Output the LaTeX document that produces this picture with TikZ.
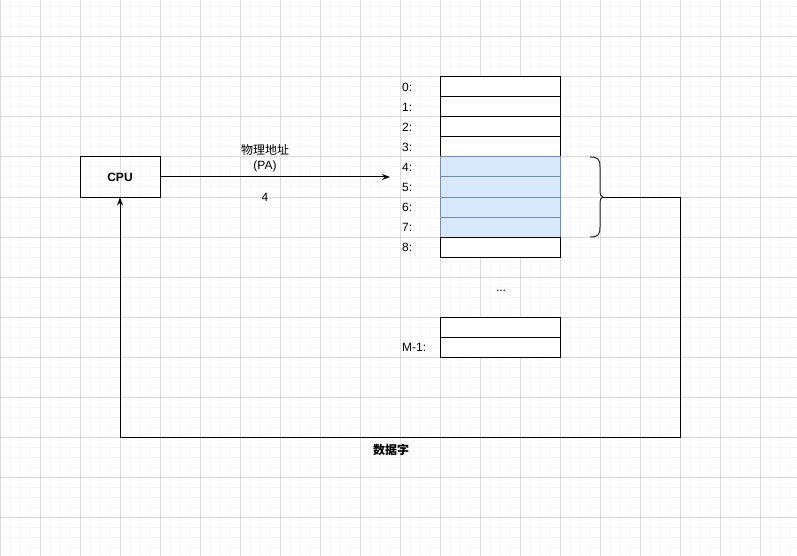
\documentclass[tikz,border=0pt]{standalone}
\usepackage{fontspec}
\setmainfont{Liberation Sans}
\newfontfamily\cjk{Noto Sans CJK SC}
\usetikzlibrary{arrows.meta}
\definecolor{memblue}{RGB}{218,232,252}
\definecolor{memedge}{RGB}{108,142,191}
\definecolor{gridmajor}{RGB}{218,218,218}
\definecolor{gridminor}{RGB}{246,246,246}

\begin{document}
\begin{tikzpicture}[
    x=1pt, y=-1pt,
    cell/.style={draw, line width=1pt, minimum width=120pt, minimum height=20pt, inner sep=0pt, fill=#1},
    cell/.default=white,
    cpubox/.style={draw, line width=1pt, minimum width=80pt, minimum height=40pt, font=\bfseries\fontsize{12}{14}\selectfont},
    addr/.style={anchor=west, inner sep=0pt, font=\fontsize{12}{14}\selectfont},
    txt/.style={inner sep=0pt, align=center, font=\fontsize{12}{15}\selectfont},
    arrow/.style={-{Stealth[length=8pt,width=6pt]}, line width=1pt}
]
% Background grid
\useasboundingbox (0,0) rectangle (797,556);
\fill[white] (0,0) rectangle (797,556);
\foreach \x in {10,20,...,790} \draw[gridminor, line width=1pt] (\x,0) -- (\x,556);
\foreach \y in {7,17,...,547} \draw[gridminor, line width=1pt] (0,\y) -- (797,\y);
\foreach \x in {0,40,...,760} \draw[gridmajor, line width=1pt] (\x,0) -- (\x,556);
\foreach \y in {37,77,...,517} \draw[gridmajor, line width=1pt] (0,\y) -- (797,\y);

% CPU
\node[cpubox] (cpu) at (120,177) {CPU};

% Memory cells
\foreach \i in {0,...,3} \node[cell] (m\i) at (500,87+20*\i) {};
\foreach \i in {4,...,7} \node[cell=memblue, draw=memedge] (m\i) at (500,87+20*\i) {};
\node[cell] (m8) at (500,247) {};
\node[cell] (mlast2) at (500,327) {};
\node[cell] (mlast) at (500,347) {};

% Addresses
\foreach \i in {0,...,8} \node[addr] (a\i) at (402,87+20*\i) {\i:};
\node[addr] (alast) at (402,347) {M-1:};
\node[txt] (dots) at (501,291) {...};

% Address bus
\coordinate (addrend) at (390,177);
\node[txt] (palabel) at (265,158.5) {{\cjk 物理地址}\\(PA)};
\node[txt] (paval) at (265,197) {4};
\draw[arrow] (cpu) -- (addrend);

% Data word back to CPU
\coordinate (bracetip) at (603,197);
\draw[line width=1pt, black!85] (590,157) .. controls (598,157) and (600,159) .. (600,167)
    -- (600,189) .. controls (600,195) and (601,197) .. (bracetip)
    .. controls (601,197) and (600,199) .. (600,205)
    -- (600,227) .. controls (600,235) and (598,237) .. (590,237);
\coordinate (corner) at (680,437);
\draw[arrow] (bracetip) -| (corner) -| (cpu.south);
\node[txt, font=\cjk\bfseries\fontsize{12}{15}\selectfont] (dataword) at (391,450) {数据字};
\end{tikzpicture}
\end{document}
